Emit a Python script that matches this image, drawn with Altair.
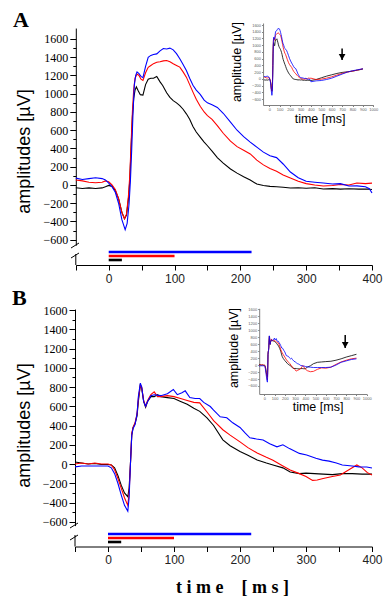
import altair as alt
import pandas as pd

# ---------------- data (time in ms, amplitude in µV) ----------------
# Panel A, main traces
a_black_t = [-50,-40,-30,-20,-10,-5,0,5,10,15,20,24,27,30,32,34,36,38,40,42,45,48,52,56,60,64,68,73,78,82,88,93,98,103,108,113,118,123,128,133,139,145,150,157,165,174,185,195,205,215,225,235,245,255,265,276,288,300,313,326,340,352,365,380,393,400]
a_black_v = [-30,-38,-32,-38,-32,-20,-5,-15,-60,-150,-300,-370,-330,-150,50,400,750,950,1040,1075,1030,990,985,1100,1160,1170,1170,1190,1130,1090,1010,960,925,900,870,830,780,720,640,580,524,470,430,370,300,240,175,130,90,55,10,-5,-15,-20,-25,-33,-30,-35,-30,-44,-40,-45,-42,-45,-44,-50]

a_red_t = [-50,-40,-30,-20,-10,-5,0,5,10,15,20,24,27,30,32,34,36,38,40,43,46,49,52,56,60,64,68,73,78,83,88,93,98,103,108,113,118,123,128,133,139,145,150,157,165,174,185,195,205,215,225,235,245,255,265,276,288,300,313,326,340,352,365,377,390,400]
a_red_v = [55,45,30,25,30,45,35,0,-50,-150,-300,-370,-320,-120,100,450,800,1050,1170,1215,1200,1160,1146,1230,1290,1310,1330,1346,1350,1360,1364,1350,1328,1310,1292,1240,1182,1100,1018,940,862,800,760,720,650,567,480,420,380,340,273,220,180,150,110,76,40,15,0,-11,-5,5,0,22,15,20]

a_blue_t = [-50,-40,-30,-20,-10,-5,0,5,10,15,20,25,28,31,33,35,37,39,41,43,46,49,52,56,60,64,68,73,78,83,88,93,98,103,108,113,118,123,128,133,139,145,150,157,165,174,185,195,205,215,225,235,245,255,265,276,288,300,313,326,340,352,365,377,390,396,400]
a_blue_v = [75,60,70,80,70,55,20,-20,-80,-200,-380,-490,-420,-200,50,400,800,1100,1200,1240,1220,1190,1176,1300,1400,1420,1430,1437,1470,1495,1490,1500,1481,1440,1383,1320,1255,1170,1092,1040,993,930,900,880,850,786,690,600,530,470,415,360,320,300,230,142,80,40,30,22,10,15,-11,-10,-20,-40,-87]

# Panel A, inset continuation beyond 400 ms
a_tail_t = [450,500,550,600,650,700,750,800,850,900]
a_black_tail = [-20,30,80,120,160,190,210,230,260,290]
a_red_tail = [-20,-10,20,60,110,160,200,230,260,300]
a_blue_tail = [-60,-50,-20,20,80,140,200,240,270,300]

# Panel B, main traces
b_black_t = [-50,-40,-30,-20,-10,0,5,10,15,20,25,30,32,34,36,38,41,44,46,49,51,54,57,60,65,70,75,80,90,100,110,120,130,139,150,160,174,185,200,212,226,240,250,265,276,290,300,313,326,340,355,370,385,400]
b_black_v = [20,10,0,5,-5,-5,-10,-40,-120,-220,-300,-340,-250,0,300,380,420,500,650,820,790,650,590,650,700,700,720,700,690,680,650,620,580,547,480,400,251,190,130,90,42,10,-10,-40,-84,-100,-95,-100,-105,-110,-100,-100,-105,-105]

b_red_t = [-50,-40,-30,-20,-10,0,5,10,15,20,25,30,32,34,36,38,41,44,46,49,51,54,57,60,65,70,75,80,90,100,110,120,130,139,150,160,174,185,200,212,226,240,250,265,276,290,300,310,317,326,340,352,365,377,385,393,400]
b_red_v = [0,10,0,10,0,0,-10,-60,-150,-250,-350,-430,-300,0,320,380,430,520,680,820,800,660,600,660,720,750,700,700,710,700,680,660,640,635,540,450,356,300,230,170,115,70,40,-20,-63,-100,-130,-170,-167,-150,-130,-115,-60,-10,-40,-90,-115]

b_blue_t = [-50,-40,-30,-20,-10,0,5,10,15,20,25,30,32,34,36,38,41,44,46,49,51,54,57,60,65,70,80,90,99,105,112,117,124,132,139,145,155,160,170,180,189,200,208,215,225,235,245,256,265,275,290,301,315,325,335,346,355,370,380,392,400]
b_blue_v = [-30,-20,-20,-20,-20,-20,-40,-100,-200,-320,-430,-490,-350,0,300,370,410,520,700,840,800,650,600,650,710,720,710,730,774,720,740,760,690,680,680,640,597,560,490,480,428,380,320,272,260,250,210,178,200,160,110,94,60,40,30,10,-10,-20,-30,-31,-42]

# Panel B, inset continuation beyond 400 ms
b_tail_t = [420,450,480,520,560,600,650,700,750,800,850,900]
b_black_tail = [-60,-20,40,80,90,100,110,140,180,230,270,310]
b_red_tail = [-160,-190,-180,-120,-80,-90,-60,20,90,140,180,200]
b_blue_tail = [-50,-60,-70,-70,-70,-70,-60,0,80,120,160,180]

# Horizontal bars below each panel (end time, ms)
bar_series = ["blue", "red", "black"]
a_bar_end = [217, 100, 20]
b_bar_end = [217, 100, 20]

# Arrows in insets
a_arrow = {"t": [700], "top": [900], "tip": [560]}
b_arrow = {"t": [790], "top": [860], "tip": [490]}

y_ticks = list(range(-600, 1601, 100))
x_ticks = list(range(-50, 401, 50))
inset_y_ticks = list(range(-600, 1601, 200))
inset_x_ticks = list(range(0, 1001, 100))

SERIES = ["black", "red", "blue"]
COLORS = ["#000000", "#ff0000", "#0000ff"]

# ---------------- helpers ----------------
def long(pairs):
    rows = []
    for name, ts, vs in pairs:
        rows += [{"series": name, "t": t, "v": v} for t, v in zip(ts, vs)]
    return pd.DataFrame(rows)

W, H = 376, 588
color = alt.Color("series:N", scale=alt.Scale(domain=SERIES, range=COLORS), legend=None)
dummy = pd.DataFrame({"k": [0]})


def lin(domain, rng):
    return alt.Scale(domain=domain, range=rng, nice=False, zero=False)


def text(s, x, y, **kw):
    return alt.Chart(dummy).mark_text(text=s, **kw).encode(x=alt.value(x), y=alt.value(y))


def seg(x1, y1, x2, y2, w=1.0):
    return alt.Chart(dummy).mark_rule(color="black", strokeWidth=w).encode(
        x=alt.value(x1), y=alt.value(y1), x2=alt.value(x2), y2=alt.value(y2))


def panel(main_df, inset_df, bar_df, arrow_df, g):
    xs = lin([-50, 400], g["x_rng"])
    ys = lin(g["y_dom"], g["y_rng"])
    x0 = g["x_rng"][0]
    lines = alt.Chart(main_df).mark_line(strokeWidth=1.1).encode(
        x=alt.X("t:Q", scale=xs, axis=None),
        y=alt.Y("v:Q", scale=ys, axis=alt.Axis(
            orient="left", offset=-x0, values=y_ticks, title=None, format="d",
            labelExpr="datum.value % 200 === 0 ? datum.label : ''",
            tickSize={"condition": {"test": "datum.value % 200 === 0", "value": 6}, "value": 3},
            labelPadding=2, labelFont="Liberation Serif", labelFontSize=12,
            labelColor="black", labelOverlap=False, domainColor="black",
            tickColor="black", grid=False)),
        color=color,
    )
    bars = alt.Chart(bar_df).mark_rule(strokeWidth=2.6).encode(
        x=alt.X("start:Q", scale=xs, axis=alt.Axis(
            orient="bottom", offset=g["xaxis_y"] - H, values=x_ticks, title=None, format="d",
            labelExpr="(datum.value % 100 === 0 && datum.value >= 0) ? datum.label : ''",
            tickSize=5, labelPadding=3, labelFont="Liberation Sans", labelFontSize=12,
            labelColor="#222", labelOverlap=False, labelFlush=False,
            domainColor="black", tickColor="black", grid=False)),
        x2="end:Q",
        y=alt.Y("series:N", scale=alt.Scale(type="point", domain=bar_series,
                                            range=g["bar_rng"], padding=0), axis=None),
        color=color,
    )
    ixs = lin(g["ix_dom"], g["ix_rng"])
    iys = lin(g["iy_dom"], g["iy_rng"])
    inset_axis = dict(title=None, labelFontSize=4, tickSize=1.5, labelPadding=1, format="d",
                      domainColor="#808080", tickColor="#808080", labelColor="#606060",
                      labelOverlap=False, labelFlush=False, grid=False,
                      labelFont="Liberation Sans")
    inset = alt.Chart(inset_df).mark_line(strokeWidth=0.8).encode(
        x=alt.X("t:Q", scale=ixs, axis=alt.Axis(orient="bottom", offset=g["iy_rng"][0] - H,
                                                values=inset_x_ticks, **inset_axis)),
        y=alt.Y("v:Q", scale=iys, axis=alt.Axis(orient="left", offset=-g["ix_rng"][0],
                                                values=inset_y_ticks, **inset_axis)),
        color=color,
    )
    stem = alt.Chart(arrow_df).mark_rule(strokeWidth=1.5, color="black").encode(
        x=alt.X("t:Q", scale=ixs, axis=None),
        y=alt.Y("top:Q", scale=iys, axis=None),
        y2="tip:Q",
    )
    head = alt.Chart(arrow_df).mark_point(shape="triangle-down", filled=True, size=45,
                                          color="black", opacity=1, yOffset=-3).encode(
        x=alt.X("t:Q", scale=ixs, axis=None),
        y=alt.Y("tip:Q", scale=iys, axis=None),
    )
    deco = [
        seg(x0, g["low_axis"][0], x0, g["low_axis"][1]),
        seg(*g["slash1"]),
        seg(*g["slash2"]),
        text(g["label"], g["label_xy"][0], g["label_xy"][1], font="Liberation Serif",
             fontSize=22, fontWeight="bold", align="left", baseline="alphabetic"),
        text("amplitudes [µV]", 17, g["ytitle_y"], angle=270, font="Liberation Sans",
             fontSize=18, align="center", baseline="middle"),
        text("amplitude [µV]", g["iytitle"][0], g["iytitle"][1], angle=270,
             font="Liberation Sans", fontSize=12.5, align="center", baseline="middle"),
        text("time [ms]", g["ixtitle"][0], g["ixtitle"][1], font="Liberation Sans",
             fontSize=12.5, align="center", baseline="middle"),
    ]
    return [lines, bars, inset, stem, head] + deco


a_main = long([("black", a_black_t, a_black_v), ("red", a_red_t, a_red_v), ("blue", a_blue_t, a_blue_v)])
a_inset = long([("black", a_black_t + a_tail_t, a_black_v + a_black_tail),
                ("red", a_red_t + a_tail_t, a_red_v + a_red_tail),
                ("blue", a_blue_t + a_tail_t, a_blue_v + a_blue_tail)])
b_main = long([("black", b_black_t, b_black_v), ("red", b_red_t, b_red_v), ("blue", b_blue_t, b_blue_v)])
b_inset = long([("black", b_black_t + b_tail_t, b_black_v + b_black_tail),
                ("red", b_red_t + b_tail_t, b_red_v + b_red_tail),
                ("blue", b_blue_t + b_tail_t, b_blue_v + b_blue_tail)])
a_bars = pd.DataFrame({"series": bar_series, "start": [0, 0, 0], "end": a_bar_end})
b_bars = pd.DataFrame({"series": bar_series, "start": [0, 0, 0], "end": b_bar_end})

geo_a = dict(
    x_rng=[67.8, 364], y_dom=[-660, 1720], y_rng=[237.2, 20.05],
    xaxis_y=257, bar_rng=[244, 252], low_axis=[246, 257],
    slash1=[63, 240, 71, 235], slash2=[63, 250, 71, 245],
    ix_dom=[-60, 1000], ix_rng=[255.06, 365.3], iy_dom=[-778, 1660], iy_rng=[97, 15],
    label="A", label_xy=[5, 19], ytitle_y=143.5, iytitle=[229, 54], ixtitle=[312, 111],
)
geo_b = dict(
    x_rng=[67, 364], y_dom=[-640, 1610], y_rng=[517.6, 301.04],
    xaxis_y=538.5, bar_rng=[526, 534], low_axis=[527, 538.5],
    slash1=[62, 520, 70, 515], slash2=[62, 532, 70, 527],
    ix_dom=[-50, 1000], ix_rng=[251.2, 358.7], iy_dom=[-830, 1630], iy_rng=[386, 300.3],
    label="B", label_xy=[4, 297], ytitle_y=417.5, iytitle=[226, 340], ixtitle=[310, 399],
)

NB = "\u00a0"
x_title = NB.join("time") + NB * 4 + NB.join("[ms]")

layers = (panel(a_main, a_inset, a_bars, pd.DataFrame(a_arrow), geo_a)
          + panel(b_main, b_inset, b_bars, pd.DataFrame(b_arrow), geo_b)
          + [text(x_title, 224.5, 585, font="Liberation Serif", fontSize=18,
                  fontWeight="bold", align="center", baseline="alphabetic")])

chart = alt.layer(*layers).resolve_scale(x="independent", y="independent").properties(
    width=W, height=H, autosize=alt.AutoSizeParams(type="none"), padding=0,
).configure_view(strokeWidth=0).configure_axis(grid=False)

chart.save("out.html", embed_options={"renderer": "svg", "actions": False})
